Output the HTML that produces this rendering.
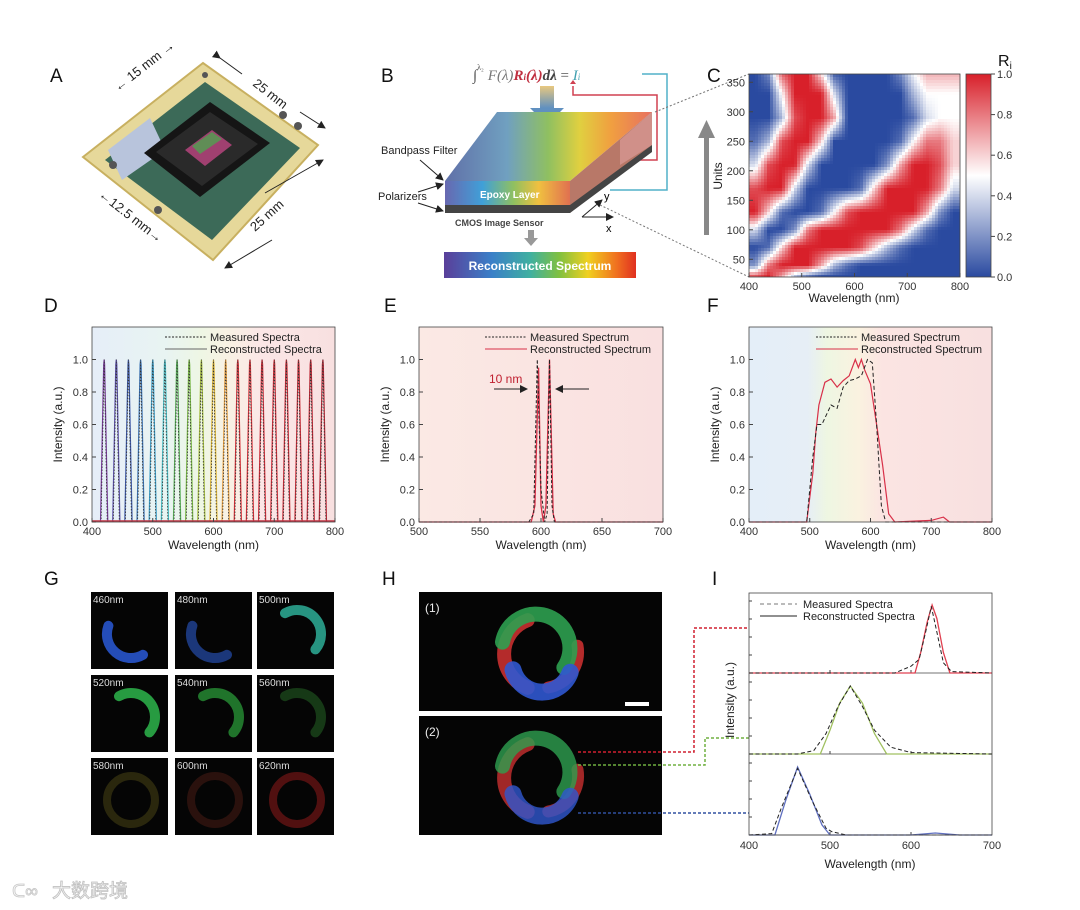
<!DOCTYPE html>
<html><head><meta charset="utf-8">
<style>
html,body{margin:0;padding:0;background:#fff;}
svg{display:block;font-family:"Liberation Sans","Noto Sans CJK SC",sans-serif;}
.tk{font-size:11px;fill:#333;}
.at{font-size:12px;fill:#222;}
.pl{font-size:19px;fill:#111;}
.lg{font-size:11px;fill:#222;}
</style></head>
<body>
<svg id="fig" width="1080" height="910" viewBox="0 0 1080 910" xmlns="http://www.w3.org/2000/svg">
<defs>
  <linearGradient id="gD" x1="0" x2="1" y1="0" y2="0">
    <stop offset="0" stop-color="#e6eef8"/><stop offset="0.3" stop-color="#e8f4f2"/>
    <stop offset="0.45" stop-color="#eef6e4"/><stop offset="0.55" stop-color="#f8f2e4"/>
    <stop offset="0.7" stop-color="#fbe6e6"/><stop offset="1" stop-color="#f8e0e0"/>
  </linearGradient>
  <linearGradient id="gE" x1="0" x2="1"><stop offset="0" stop-color="#fbe9e4"/><stop offset="1" stop-color="#f9e0e0"/></linearGradient>
  <linearGradient id="gF" x1="0" x2="1">
    <stop offset="0" stop-color="#e4eef8"/><stop offset="0.24" stop-color="#e6eef6"/>
    <stop offset="0.32" stop-color="#eef6e2"/><stop offset="0.45" stop-color="#faf2e0"/>
    <stop offset="0.55" stop-color="#fbe4e2"/><stop offset="1" stop-color="#f8e0e0"/>
  </linearGradient>
  <linearGradient id="gSpec" x1="0" x2="1">
    <stop offset="0" stop-color="#5a3f9a"/><stop offset="0.25" stop-color="#3a80c8"/>
    <stop offset="0.45" stop-color="#40b0a0"/><stop offset="0.6" stop-color="#80c040"/>
    <stop offset="0.75" stop-color="#f0d020"/><stop offset="0.9" stop-color="#f07020"/><stop offset="1" stop-color="#e03020"/>
  </linearGradient>
  <linearGradient id="gTop" x1="0" x2="1">
    <stop offset="0" stop-color="#6070a8"/><stop offset="0.3" stop-color="#70a0c0"/>
    <stop offset="0.5" stop-color="#90c060"/><stop offset="0.65" stop-color="#e0d040"/>
    <stop offset="0.8" stop-color="#f0a040"/><stop offset="1" stop-color="#e87060"/>
  </linearGradient>
  <linearGradient id="gFront" x1="0" x2="1">
    <stop offset="0" stop-color="#6868b0"/><stop offset="0.3" stop-color="#40a0d8"/>
    <stop offset="0.55" stop-color="#90c060"/><stop offset="0.75" stop-color="#f0c040"/><stop offset="1" stop-color="#e07050"/>
  </linearGradient>
  <linearGradient id="gArrow" x1="0" x2="0" y1="0" y2="1"><stop offset="0" stop-color="#e8c880"/><stop offset="1" stop-color="#6090c0"/></linearGradient>
  <linearGradient id="gCbar" x1="0" x2="0" y1="0" y2="1">
    <stop offset="0" stop-color="#d8202a"/><stop offset="0.5" stop-color="#ffffff"/><stop offset="1" stop-color="#2a4aa0"/>
  </linearGradient>
  <clipPath id="clipC"><rect x="749" y="74" width="211" height="203"/></clipPath>
  <marker id="ah" markerWidth="8" markerHeight="8" refX="7" refY="4" orient="auto"><path d="M0,0 L8,4 L0,8 z" fill="#222"/></marker>
</defs>
<rect width="1080" height="910" fill="#fff"/>

<text class="pl" x="50" y="82">A</text>
<text class="pl" x="381" y="82">B</text>
<text class="pl" x="707" y="82">C</text>
<text class="pl" x="44" y="312">D</text>
<text class="pl" x="384" y="312">E</text>
<text class="pl" x="707" y="312">F</text>
<text class="pl" x="44" y="585">G</text>
<text class="pl" x="382" y="585">H</text>
<text class="pl" x="712" y="585">I</text>

<g>
  <polygon points="83,157 203,63 318,145 213,260" fill="#e6d89a" stroke="#c8b060" stroke-width="2"/>
  <polygon points="105,160 205,82 300,148 212,240" fill="#3c6a58"/>
  <polygon points="108,150 150,118 165,150 122,180" fill="#b8c4dc"/>
  <polygon points="144,153 210,102 270,143 200,197" fill="#151515"/>
  <polygon points="156,152 210,112 258,144 202,186" fill="#2a2a2a"/>
  <polygon points="185,150 212,130 232,145 205,166" fill="#a04070"/>
  <polygon points="192,146 212,132 222,139 200,154" fill="#50a050" opacity="0.8"/>
  <circle cx="113" cy="165" r="4" fill="#555"/><circle cx="158" cy="210" r="4" fill="#555"/>
  <circle cx="205" cy="75" r="3" fill="#555"/><circle cx="283" cy="115" r="4" fill="#555"/><circle cx="298" cy="126" r="4" fill="#555"/>
</g>
<g font-size="13" fill="#222">
  <text x="118" y="92" transform="rotate(-38 118 92)">← 15 mm →</text>
  <text x="252" y="85" transform="rotate(38 252 85)">25 mm</text>
  <text x="98" y="196" transform="rotate(38 98 196)">←12.5 mm→</text>
  <text x="255" y="232" transform="rotate(-42 255 232)">25 mm</text>
  <line x1="220" y1="58" x2="242" y2="74" stroke="#222" marker-start="url(#ah)"/>
  <line x1="300" y1="112" x2="325" y2="128" stroke="#222" marker-end="url(#ah)"/>
  <line x1="265" y1="193" x2="323" y2="160" stroke="#222" marker-end="url(#ah)"/>
  <line x1="272" y1="240" x2="225" y2="268" stroke="#222" marker-end="url(#ah)"/>
</g>

<g>
  <text x="473" y="80" font-size="15" font-family="Liberation Serif,serif" fill="#555">∫<tspan font-size="8" dy="-10">λ₂</tspan><tspan dy="10" dx="4" font-style="italic" fill="#777">F(λ)</tspan><tspan font-style="italic" font-weight="bold" fill="#c03040">R<tspan font-size="9">i</tspan>(λ)</tspan><tspan font-style="italic" font-weight="bold" fill="#444">dλ</tspan> = <tspan font-style="italic" fill="#40a0b0">I<tspan font-size="9">i</tspan></tspan></text>
  <rect x="540" y="86" width="14" height="22" fill="url(#gArrow)"/>
  <polygon points="530,108 564,108 547,125" fill="#6090c0"/>
  <polyline points="642,74 667,74 667,190 610,190" fill="none" stroke="#50b0c8" stroke-width="1.5"/>
  <polyline points="573,86 573,95 657,95 657,160 618,160" fill="none" stroke="#d04050" stroke-width="1.5"/>
  <polygon points="570,84 576,84 573,80" fill="#d04050"/>
  <polygon points="445,181 497,112 652,112 570,181" fill="url(#gTop)"/>
  <polygon points="570,181 652,112 652,145 570,213" fill="#b87868"/>
  <polygon points="620,140 652,112 652,145 620,165" fill="#e0a0a0" opacity="0.6"/>
  <rect x="445" y="181" width="125" height="24" fill="url(#gFront)"/>
  <polygon points="445,205 570,205 652,145 652,152 570,213 445,213" fill="#444"/>
  <text x="480" y="198" font-size="10" fill="#fff" font-weight="bold">Epoxy Layer</text>
  <text x="381" y="154" font-size="11" fill="#222">Bandpass Filter</text>
  <line x1="420" y1="160" x2="443" y2="180" stroke="#222" marker-end="url(#ah)"/>
  <text x="378" y="200" font-size="11" fill="#222">Polarizers</text>
  <line x1="418" y1="192" x2="443" y2="184" stroke="#222" marker-end="url(#ah)"/>
  <line x1="418" y1="203" x2="443" y2="211" stroke="#222" marker-end="url(#ah)"/>
  <text x="455" y="226" font-size="9" fill="#444" font-weight="bold">CMOS Image Sensor</text>
  <rect x="528" y="230" width="6" height="8" fill="#999"/><polygon points="524,238 538,238 531,246" fill="#999"/>
  <rect x="444" y="252" width="192" height="26" fill="url(#gSpec)"/>
  <text x="540" y="270" font-size="12" fill="#fff" font-weight="bold" text-anchor="middle">Reconstructed Spectrum</text>
  <line x1="582" y1="217" x2="613" y2="217" stroke="#222" marker-end="url(#ah)"/>
  <line x1="582" y1="217" x2="602" y2="200" stroke="#222" marker-end="url(#ah)"/>
  <text x="606" y="232" font-size="11">x</text><text x="604" y="200" font-size="11">y</text>
  <line x1="655" y1="112" x2="749" y2="74" stroke="#777" stroke-dasharray="2,2"/>
  <line x1="600" y1="205" x2="749" y2="277" stroke="#777" stroke-dasharray="2,2"/>
</g>

<g>
  <g clip-path="url(#clipC)"><g id="hmCells" shape-rendering="crispEdges"></g></g>
  <rect x="749" y="74" width="211" height="203" fill="none" stroke="#444" stroke-width="0.8"/>
</g>
<g>
  <rect x="966" y="74" width="25" height="203" fill="url(#gCbar)" stroke="#444" stroke-width="0.8"/>
  <text x="998" y="66" font-size="16" fill="#111">R<tspan font-size="10" dy="3">i</tspan></text>
  <g id="cbTicks"></g>
</g>
<g>
  <rect x="704" y="135" width="5" height="100" fill="#888"/><polygon points="698,138 715,138 706.5,120" fill="#888"/>
</g>
<text class="at" x="0" y="0" transform="translate(722 176) rotate(-90)" text-anchor="middle">Units</text>
<text class="at" x="854" y="302" text-anchor="middle">Wavelength (nm)</text>
<g id="cAxes"></g>

<rect x="92" y="327" width="243" height="195" fill="url(#gD)"/>
<rect x="419" y="327" width="244" height="195" fill="url(#gE)"/>
<rect x="749" y="327" width="243" height="195" fill="url(#gF)"/>
<g id="plotD"></g><g id="plotE"></g><g id="plotF"></g>

<g>
  <text x="489" y="383" font-size="12" fill="#c02030">10 nm</text>
  <line x1="494" y1="389" x2="527" y2="389" stroke="#222" marker-end="url(#ah)"/>
  <line x1="589" y1="389" x2="556" y2="389" stroke="#222" marker-end="url(#ah)"/>
</g>

<g id="tilesG"></g>
<g id="panelH"></g>
<g id="plotI"></g>

<g>
  <text x="12" y="897" font-size="18" fill="#f6f6f6" stroke="#c8c8c8" stroke-width="0.8">ᑕ∞</text>
  <text x="52" y="897" font-size="19" fill="#f6f6f6" stroke="#c0c0c0" stroke-width="0.8" font-family="Noto Sans CJK SC,sans-serif">大数跨境</text>
</g>
</svg>

<script>
// ===== Data =====
const hmWl = [412,437,462,487,512,537,562,587,612,637,662,687,712,737,762,787];
const hmUnits = [370,330,290,250,210,170,130,100,70,40,20];
const hmRow370 = [0,0.2,0.9,1,1,0.5,0,0,0,0,0,0.2,0.5,0.7,0.7,0.7];
const hmRow330 = [0,0,0.5,1,1,1,0.4,0,0,0,0,0,0.3,0.5,0.5,0.5];
const hmRow290 = [0,0,0.3,0.9,1,1,0.7,0,0,0,0,0,0.1,0.4,0.5,0.5];
const hmRow250 = [0.1,0.3,0.9,1,1,0.6,0,0,0,0,0,0.1,0.5,0.8,0.8,0.6];
const hmRow210 = [0.4,0.9,1,1,0.4,0,0,0,0,0,0.2,0.7,1,1,0.9,0.6];
const hmRow170 = [0.9,1,1,0.4,0,0,0,0,0.1,0.6,1,1,1,1,0.8,0.4];
const hmRow130 = [1,0.6,0.1,0,0,0.1,0.5,0.9,1,1,1,1,1,0.7,0.2,0];
const hmRow100 = [0.4,0,0,0.2,0.8,1,1,1,1,1,1,0.8,0.4,0.1,0,0];
const hmRow70 = [0,0.1,0.6,1,1,1,1,1,0.9,0.6,0.3,0.1,0,0,0,0];
const hmRow40 = [0.2,0.8,1,1,1,0.7,0.3,0.1,0,0,0,0,0,0,0,0];
const hmRow20 = [0.9,1,0.7,0.3,0.1,0,0,0,0,0,0,0,0,0,0,0];
const hmValues = [hmRow370,hmRow330,hmRow290,hmRow250,hmRow210,hmRow170,hmRow130,hmRow100,hmRow70,hmRow40,hmRow20];
const cXTicks = [400,500,600,700,800];
const cYTicks = [50,100,150,200,250,300,350];
const cbTickLabels = ["0.0","0.2","0.4","0.6","0.8","1.0"];

const dCenters = [420,440,460,480,500,520,540,560,580,600,620,640,660,680,700,720,740,760,780];
const dPeaks = [1,1,1,1,1,1,1,1,1,1,1,1,1,1,1,1,1,1,1];
const dColors = ["#7a3c9c","#5a4ea8","#3c58a8","#3a72b4","#3c9ec8","#48bcc4","#58b058","#7cbc48","#a8c040","#e0b838","#e8a040","#d83038","#d83038","#d02c38","#d02c38","#c82a36","#c82a36","#c02836","#b82836"];
const dXTicks = [400,500,600,700,800];
const yTicks = [0,0.2,0.4,0.6,0.8,1.0];

const eMeasX = [500,590,594,597,600,603,605,607,609,611,620,700];
const eMeasY = [0,0,0.05,1.0,0.2,0,0.05,1.0,0.1,0,0,0];
const eRecX = [500,592,595,598,600,602,604,607,610,612,700];
const eRecY = [0,0,0.1,0.95,0.1,0,0.1,1.0,0.05,0,0];
const eXTicks = [500,550,600,650,700];

const fRecX = [400,495,505,510,515,525,535,545,555,565,575,580,585,590,600,610,620,630,640,700,720,730,800];
const fRecY = [0,0,0.3,0.55,0.72,0.86,0.88,0.83,0.87,0.9,1.0,0.95,1.0,0.94,0.85,0.6,0.35,0.05,0,0.01,0.03,0,0];
const fMeasX = [400,495,505,512,520,535,545,555,565,575,585,595,603,610,618,625,800];
const fMeasY = [0,0,0.4,0.6,0.6,0.72,0.7,0.83,0.87,0.88,0.9,1.0,0.98,0.6,0.1,0,0];
const fXTicks = [400,500,600,700,800];

const iXTicks = [400,500,600,700];
const iRedRecX = [400,605,612,620,626,632,640,648,700];
const iRedRecY = [0,0,0.3,0.75,1,0.8,0.3,0,0];
const iRedMeasX = [400,580,600,610,618,625,632,640,650,700];
const iRedMeasY = [0,0,0.1,0.2,0.6,0.98,0.6,0.15,0.02,0];
const iGrnRecX = [400,488,500,512,525,540,555,570,700];
const iGrnRecY = [0,0,0.35,0.75,1,0.75,0.3,0,0];
const iGrnMeasX = [400,460,480,495,510,525,540,555,575,600,700];
const iGrnMeasY = [0,0,0.05,0.3,0.7,1,0.7,0.35,0.1,0.02,0];
const iBluRecX = [400,432,445,460,475,490,500,600,630,660,700];
const iBluRecY = [0,0,0.5,1,0.6,0.15,0,0,0.03,0,0];
const iBluMeasX = [400,428,440,460,478,495,502,520,700];
const iBluMeasY = [0,0.02,0.4,0.98,0.5,0.1,0.05,0,0];

const gLabels = ["460nm","480nm","500nm","520nm","540nm","560nm","580nm","600nm","620nm"];
const gArcColor = ["#2a5ad8","#2a58c8","#30b8a0","#30c050","#30b040","#308830","#807820","#803020","#b02020"];
const gArcFrom = [60,60,-120,-120,-120,-120,0,0,0];
const gArcTo = [200,200,40,40,40,40,360,360,360];
const gArcOpacity = [0.85,0.6,0.8,0.8,0.65,0.4,0.3,0.3,0.45];

// ===== helpers =====
const NS = "http://www.w3.org/2000/svg";
function mk(parent, tag, attrs, text){
  const e = document.createElementNS(NS, tag);
  for (const k in attrs) e.setAttribute(k, attrs[k]);
  if (text !== undefined) e.textContent = text;
  parent.appendChild(e);
  return e;
}
function lin(d0,d1,r0,r1){ return v => r0 + (v-d0)/(d1-d0)*(r1-r0); }
function pathOf(xs, ys, sx, sy){ return xs.map((x,i)=>(i?"L":"M")+sx(x).toFixed(1)+","+sy(ys[i]).toFixed(1)).join(" "); }
function cmap(v){
  const b=[42,74,160], w=[255,255,255], r=[216,32,42];
  let c;
  if (v<0.5){ const t=v/0.5; c=b.map((x,i)=>Math.round(x+(w[i]-x)*t)); }
  else { const t=(v-0.5)/0.5; c=w.map((x,i)=>Math.round(x+(r[i]-x)*t)); }
  return "rgb("+c.join(",")+")";
}
// locate fractional index in a monotonic array
function fracIdx(arr, v){
  const n = arr.length;
  const asc = arr[n-1] > arr[0];
  for (let i=0;i<n-1;i++){
    const a=arr[i], b=arr[i+1];
    if ((asc && v<=b) || (!asc && v>=b)) { let t=(v-a)/(b-a); t=Math.max(0,Math.min(1,t)); return [i,t]; }
  }
  return [n-2,1];
}
function hmSample(wl, u){
  const [ci,ct] = fracIdx(hmWl, wl);
  const [ri,rt] = fracIdx(hmUnits, u);
  const v00=hmValues[ri][ci], v01=hmValues[ri][ci+1], v10=hmValues[ri+1][ci], v11=hmValues[ri+1][ci+1];
  return (v00*(1-ct)+v01*ct)*(1-rt) + (v10*(1-ct)+v11*ct)*rt;
}

// ===== Panel C =====
(function(){
  const sx = lin(400,800,749,960), sy = lin(20,364,277,74);
  const ix = lin(749,960,400,800), iy = lin(277,74,20,364);
  const g = document.getElementById("hmCells");
  const step = 3;
  for (let py=74; py<277; py+=step){
    for (let px=749; px<960; px+=step){
      const v = hmSample(ix(px+step/2), iy(py+step/2));
      const cell = mk(g,"rect",{x:px, y:py, width:step, height:step, fill:cmap(v)});
      
      
    }
  }
  const ax = document.getElementById("cAxes");
  cXTicks.forEach(v=>{
    const t = mk(ax,"text",{x:sx(v),y:290,"text-anchor":"middle",class:"tk"},String(v));
    
    
    mk(ax,"line",{x1:sx(v),x2:sx(v),y1:277,y2:273,stroke:"#444"});
  });
  cYTicks.forEach(v=>{
    const t = mk(ax,"text",{x:745,y:sy(v)+4,"text-anchor":"end",class:"tk"},String(v));
    
    
    mk(ax,"line",{x1:749,x2:753,y1:sy(v),y2:sy(v),stroke:"#444"});
  });
  const cb = document.getElementById("cbTicks");
  const cby = lin(0,5,277,74);
  cbTickLabels.forEach((lab,i)=>{
    mk(cb,"line",{x1:991,x2:995,y1:cby(i),y2:cby(i),stroke:"#444"});
    const t = mk(cb,"text",{x:997,y:cby(i)+4,class:"tk"},lab);
    
    
  });
})();

function axes(g, x0, x1, y0, y1, sx, sy, xt, yt, prefix){
  mk(g,"rect",{x:x0,y:y1,width:x1-x0,height:y0-y1,fill:"none",stroke:"#444","stroke-width":0.8});
  xt.forEach(v=>{
    mk(g,"line",{x1:sx(v),x2:sx(v),y1:y0,y2:y0-4,stroke:"#444"});
    const t = mk(g,"text",{x:sx(v),y:y0+13,"text-anchor":"middle",class:"tk"},String(v));
    
    
  });
  yt.forEach(v=>{
    mk(g,"line",{x1:x0,x2:x0+4,y1:sy(v),y2:sy(v),stroke:"#444"});
    const t = mk(g,"text",{x:x0-4,y:sy(v)+4,"text-anchor":"end",class:"tk"},v.toFixed(1));
    
    
  });
  const xtl = mk(g,"text",{x:(x0+x1)/2,y:y0+27,"text-anchor":"middle",class:"at"},"Wavelength (nm)");
  
  
  const ytl = mk(g,"text",{transform:"translate("+(x0-30)+" "+((y0+y1)/2)+") rotate(-90)","text-anchor":"middle",class:"at"},"Intensity (a.u.)");
  
  
}
function legend(g, x, y, lab1, lab2, c2){
  mk(g,"line",{x1:x,x2:x+42,y1:y,y2:y,stroke:"#222","stroke-dasharray":"2,1.5"});
  mk(g,"line",{x1:x,x2:x+42,y1:y+12,y2:y+12,stroke:c2});
  const a = mk(g,"text",{x:x+45,y:y+4,class:"lg"},lab1);
  
  
  const b = mk(g,"text",{x:x+45,y:y+16,class:"lg"},lab2);
  
  
}

// ===== Panel D =====
(function(){
  const g = document.getElementById("plotD");
  const sx = lin(400,800,92,335), sy = lin(0,1.2,522,327);
  dCenters.forEach((c,i)=>{
    const xs=[c-6,c-0.8,c,c+0.8,c+6], ys=[0,dPeaks[i]*0.97,dPeaks[i],dPeaks[i]*0.97,0];
    const p = mk(g,"path",{d:pathOf(xs,ys,sx,sy),fill:"none",stroke:dColors[i],"stroke-width":1.2});
    
    
    const xm=[c-5,c,c+5], ym=[0,dPeaks[i],0];
    const q = mk(g,"path",{d:pathOf(xm,ym,sx,sy),fill:"none",stroke:"#333","stroke-width":0.8,"stroke-dasharray":"1.5,1.5"});
    
    
  });
  mk(g,"line",{x1:92,x2:335,y1:521,y2:521,stroke:"#c03040","stroke-width":1.5});
  axes(g,92,335,522,327,sx,sy,dXTicks,yTicks,"d");
  legend(g,165,337,"Measured Spectra","Reconstructed Spectra","#666");
})();

// ===== Panel E =====
(function(){
  const g = document.getElementById("plotE");
  const sx = lin(500,700,419,663), sy = lin(0,1.2,522,327);
  const r = mk(g,"path",{d:pathOf(eRecX,eRecY,sx,sy),fill:"none",stroke:"#d83048","stroke-width":1.3});
  
  
  const m = mk(g,"path",{d:pathOf(eMeasX,eMeasY,sx,sy),fill:"none",stroke:"#222","stroke-width":1,"stroke-dasharray":"3,2"});
  
  
  axes(g,419,663,522,327,sx,sy,eXTicks,yTicks,"e");
  legend(g,485,337,"Measured Spectrum","Reconstructed Spectrum","#d83048");
})();

// ===== Panel F =====
(function(){
  const g = document.getElementById("plotF");
  const sx = lin(400,800,749,992), sy = lin(0,1.2,522,327);
  const r = mk(g,"path",{d:pathOf(fRecX,fRecY,sx,sy),fill:"none",stroke:"#d83048","stroke-width":1.2});
  
  
  const m = mk(g,"path",{d:pathOf(fMeasX,fMeasY,sx,sy),fill:"none",stroke:"#222","stroke-width":1,"stroke-dasharray":"4,2.5"});
  
  
  axes(g,749,992,522,327,sx,sy,fXTicks,yTicks,"f");
  legend(g,816,337,"Measured Spectrum","Reconstructed Spectrum","#d83048");
})();

// ===== Panel G =====
function arc(cx,cy,r,a0,a1){
  const p=a=>[cx+r*Math.cos(a*Math.PI/180), cy+r*Math.sin(a*Math.PI/180)];
  const s=p(a0), e=p(a1); const large=(a1-a0)>180?1:0;
  return "M"+s[0].toFixed(1)+","+s[1].toFixed(1)+" A"+r+","+r+" 0 "+large+" 1 "+e[0].toFixed(1)+","+e[1].toFixed(1);
}
(function(){
  const g = document.getElementById("tilesG");
  const cols=[91,175,257], rows=[592,675,758];
  gLabels.forEach((lab,i)=>{
    const x=cols[i%3], y=rows[Math.floor(i/3)];
    const tile = mk(g,"rect",{x:x,y:y,width:77,height:77,fill:"#050505"});
    
    
    const cx=x+40, cy=y+42;
    const full = (gArcTo[i]-gArcFrom[i])>=360;
    const d = full ? "M"+(cx-24)+","+cy+" a24,24 0 1 0 48,0 a24,24 0 1 0 -48,0" : arc(cx,cy,24,gArcFrom[i],gArcTo[i]);
    const a = mk(g,"path",{d:d,fill:"none",stroke:gArcColor[i],"stroke-width":full?8:10,opacity:gArcOpacity[i],"stroke-linecap":"round"});
    
    
    const t = mk(g,"text",{x:x+2,y:y+11,"font-size":"10",fill:"#ddd"},lab);
    
    
  });
})();

// ===== Panel H =====
(function(){
  const g = document.getElementById("panelH");
  [[592,"(1)"],[716,"(2)"]].forEach(([y,lab],k)=>{
    const img = mk(g,"rect",{x:419,y:y,width:243,height:119,fill:"#050505"});
    
    
    const cx=540, cy=y+62;
    const parts=[["#c83030",arc(cx,cy,36,110,250),14],["#c83030",arc(cx+2,cy-2,36,-10,80),12],
                 ["#2ea050",arc(cx-4,cy-6,34,-170,35),15],["#3058d0",arc(cx+2,cy+8,30,20,165),17]];
    parts.forEach(p=>{
      const s = mk(g,"path",{d:p[1],fill:"none",stroke:p[0],"stroke-width":p[2],opacity:k?0.8:0.9,"stroke-linecap":"round"});
      
      
    });
    const t = mk(g,"text",{x:425,y:y+20,"font-size":"12",fill:"#eee"},lab);
    
    
  });
  mk(g,"rect",{x:625,y:702,width:24,height:4,fill:"#fff"});
  const c1 = mk(g,"polyline",{points:"578,752 694,752 694,628 749,628",fill:"none",stroke:"#d02030","stroke-width":1.5,"stroke-dasharray":"3,2"});
  
  
  const c2 = mk(g,"polyline",{points:"578,765 705,765 705,738 749,738",fill:"none",stroke:"#70b040","stroke-width":1.5,"stroke-dasharray":"3,2"});
  
  
  const c3 = mk(g,"polyline",{points:"578,813 749,813",fill:"none",stroke:"#3050a0","stroke-width":1.5,"stroke-dasharray":"3,2"});
  
  
})();

// ===== Panel I =====
(function(){
  const g = document.getElementById("plotI");
  const sx = lin(400,700,749,992);
  const subs = [[593,673,iRedRecX,iRedRecY,iRedMeasX,iRedMeasY,"#e04050","red"],
                [673,754,iGrnRecX,iGrnRecY,iGrnMeasX,iGrnMeasY,"#a0c060","green"],
                [754,835,iBluRecX,iBluRecY,iBluMeasX,iBluMeasY,"#6070c0","blue"]];
  subs.forEach(s=>{
    const sy = lin(0,1,s[1],s[1]-68);
    for (let k=1;k<=4;k++) mk(g,"line",{x1:749,x2:752,y1:s[1]-k*18,y2:s[1]-k*18,stroke:"#444"});
    mk(g,"line",{x1:749,x2:992,y1:s[1],y2:s[1],stroke:"#444","stroke-width":0.8});
    [500,600].forEach(v=>mk(g,"line",{x1:sx(v),x2:sx(v),y1:s[1],y2:s[1]-3,stroke:"#444"}));
    const r = mk(g,"path",{d:pathOf(s[2],s[3],sx,sy),fill:"none",stroke:s[6],"stroke-width":1.3});
    
    
    const m = mk(g,"path",{d:pathOf(s[4],s[5],sx,sy),fill:"none",stroke:"#222","stroke-width":1,"stroke-dasharray":"4,2.5"});
    
    
  });
  mk(g,"rect",{x:749,y:593,width:243,height:242,fill:"none",stroke:"#444","stroke-width":0.8});
  iXTicks.forEach(v=>{
    const t = mk(g,"text",{x:sx(v),y:849,"text-anchor":"middle",class:"tk"},String(v));
    
    
  });
  const xt = mk(g,"text",{x:870,y:868,"text-anchor":"middle",class:"at"},"Wavelength (nm)");
  
  
  const yt = mk(g,"text",{transform:"translate(734 700) rotate(-90)","text-anchor":"middle",class:"at"},"Intensity (a.u.)");
  
  
  mk(g,"line",{x1:760,x2:797,y1:604,y2:604,stroke:"#777","stroke-dasharray":"4,3"});
  mk(g,"line",{x1:760,x2:797,y1:616,y2:616,stroke:"#222"});
  const l1 = mk(g,"text",{x:803,y:608,class:"lg"},"Measured Spectra");
  
  
  const l2 = mk(g,"text",{x:803,y:620,class:"lg"},"Reconstructed Spectra");
  
  
})();
</script>
</body></html>
